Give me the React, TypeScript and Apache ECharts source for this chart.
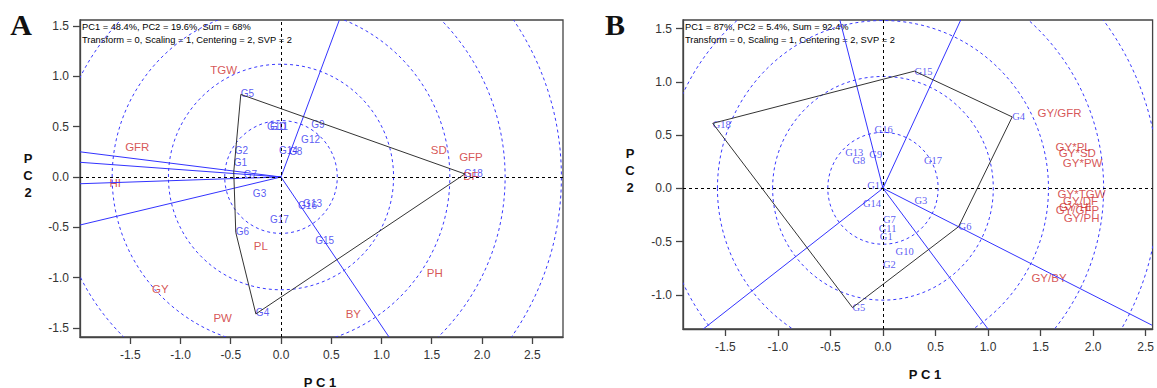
import React, { useEffect, useRef } from 'react';
import * as echarts from 'echarts';

// ---------- ticks ----------
const xTicksA = [-1.5, -1.0, -0.5, 0, 0.5, 1.0, 1.5, 2.0, 2.5];
const yTicksA = [-1.5, -1.0, -0.5, 0, 0.5, 1.0, 1.5];
const xTicksB = [-1.5, -1.0, -0.5, 0, 0.5, 1.0, 1.5, 2.0, 2.5];
const yTicksB = [-1.0, -0.5, 0, 0.5, 1.0, 1.5];

// ---------- panel A ----------
const genoNamesA = ['G1', 'G2', 'G3', 'G4', 'G5', 'G6', 'G7', 'G8', 'G9', 'G10', 'G11', 'G12', 'G13', 'G14', 'G15', 'G16', 'G17', 'G18'];
const genoXA = [-0.47, -0.46, -0.28, -0.25, -0.40, -0.45, -0.37, 0.08, 0.30, -0.14, -0.11, 0.20, 0.22, -0.02, 0.34, 0.17, -0.11, 1.82];
const genoYA = [0.14, 0.26, -0.16, -1.35, 0.83, -0.54, 0.02, 0.25, 0.52, 0.50, 0.50, 0.37, -0.26, 0.26, -0.63, -0.28, -0.42, 0.03];

const traitNamesA = ['TGW', 'GFR', 'HI', 'SD', 'GFP', 'DF', 'PL', 'GY', 'PW', 'PH', 'BY'];
const traitXA = [-0.57, -1.43, -1.65, 1.57, 1.89, 1.89, -0.20, -1.20, -0.58, 1.53, 0.72];
const traitYA = [1.06, 0.30, -0.06, 0.27, 0.20, 0.01, -0.69, -1.11, -1.40, -0.95, -1.36];

const polyXA = [-0.40, 1.83, -0.25, -0.45, -0.47, -0.40];
const polyYA = [0.82, 0.03, -1.36, -0.55, 0.05, 0.82];

const rayEndXA = [0.58, -2.0, -2.0, -2.0, -2.0, 1.075];
const rayEndYA = [1.557, 0.25, 0.146, -0.067, -0.477, -1.589];

const circleRadiiA = [0.56, 1.12, 1.68, 2.23, 2.79];

// ---------- panel B ----------
const genoNamesB = ['G1', 'G2', 'G3', 'G4', 'G5', 'G6', 'G7', 'G8', 'G9', 'G10', 'G11', 'G12', 'G13', 'G14', 'G15', 'G16', 'G17', 'G18'];
const genoXB = [-0.03, 0.0, 0.30, 1.23, -0.29, 0.72, 0.0, -0.29, -0.13, 0.12, -0.04, -0.15, -0.36, -0.19, 0.30, -0.08, 0.39, -1.62];
const genoYB = [-0.45, -0.72, -0.11, 0.67, -1.12, -0.36, -0.29, 0.26, 0.32, -0.59, -0.38, 0.03, 0.34, -0.14, 1.10, 0.55, 0.26, 0.60];

const traitNamesB = ['GY/GFR', 'GY*PL', 'GY*SD', 'GY*PW', 'GY*TGW', 'GY/DF', 'GY*HI', 'GY/GFP', 'GY/PH', 'GY/BY'];
const traitXB = [1.68, 1.81, 1.85, 1.90, 1.89, 1.88, 1.83, 1.85, 1.89, 1.58];
const traitYB = [0.71, 0.385, 0.33, 0.235, -0.05, -0.12, -0.175, -0.205, -0.28, -0.84];

const polyXB = [-1.62, 0.30, 1.23, 0.72, -0.29, -1.62];
const polyYB = [0.61, 1.10, 0.67, -0.36, -1.12, 0.61];

const rayEndXB = [-0.41, 0.74, -1.71, 1.0, 2.56];
const rayEndYB = [1.58, 1.58, -1.321, -1.321, -1.285];

const circleRadiiB = [0.525, 1.05, 1.575, 2.10, 2.625];

// ---------- styles ----------
const BLUE_TXT = '#3030f0';
const RED_TXT = '#cc2a2a';
const RAY = '#3333ff';
const CIRCLE = '#3a3aff';
const AXIS = '#444';

function axisX(gridIndex: number, min: number, max: number, ticks: number[]) {
  return {
    type: 'value', gridIndex, min, max,
    axisLine: { show: true, onZero: false, lineStyle: { color: AXIS, width: 1.3 } },
    axisTick: { show: true, length: 7, customValues: ticks, lineStyle: { color: AXIS, width: 1.3 } },
    axisLabel: {
      show: true, customValues: ticks, margin: 12, color: '#333', fontSize: 12,
      fontFamily: 'Liberation Sans', formatter: (v: number) => v.toFixed(1),
    },
    splitLine: { show: false },
  };
}
function axisY(gridIndex: number, min: number, max: number, ticks: number[]) {
  return {
    type: 'value', gridIndex, min, max,
    axisLine: { show: true, onZero: false, lineStyle: { color: AXIS, width: 1.3 } },
    axisTick: { show: true, length: 7, customValues: ticks, lineStyle: { color: AXIS, width: 1.3 } },
    axisLabel: {
      show: true, customValues: ticks, margin: 11, color: '#333', fontSize: 12,
      fontFamily: 'Liberation Sans', formatter: (v: number) => v.toFixed(1),
    },
    splitLine: { show: false },
  };
}

function panelSeries(idx: number, radii: number[], polyX: number[], polyY: number[],
  rayX: number[], rayY: number[], gN: string[], gX: number[], gY: number[],
  tN: string[], tX: number[], tY: number[], genoFont: string, genoSize: number) {
  const s: any[] = [];
  s.push({
    type: 'custom', xAxisIndex: idx, yAxisIndex: idx, clip: true, silent: true,
    data: radii.map((r) => [0, 0, r]),
    encode: { x: 0, y: 1 },
    renderItem: (_p: any, api: any) => {
      const r = api.value(2);
      const c = api.coord([0, 0]);
      const sz = api.size([r, r]);
      return {
        type: 'ellipse',
        shape: { cx: c[0], cy: c[1], rx: sz[0], ry: sz[1] },
        style: { fill: 'none', stroke: CIRCLE, lineWidth: 1, lineDash: [3, 3] },
      };
    },
  });
  rayX.forEach((x, i) => {
    s.push({
      type: 'line', xAxisIndex: idx, yAxisIndex: idx, silent: true, symbol: 'none',
      data: [[0, 0], [x, rayY[i]]],
      lineStyle: { color: RAY, width: 1 },
    });
  });
  s.push({
    type: 'line', xAxisIndex: idx, yAxisIndex: idx, silent: true, symbol: 'none',
    data: polyX.map((x, i) => [x, polyY[i]]),
    lineStyle: { color: '#333', width: 1 },
    markLine: {
      silent: true, symbol: ['none', 'none'], label: { show: false },
      lineStyle: { color: '#000', type: [3, 3], width: 1 },
      data: [{ xAxis: 0 }, { yAxis: 0 }],
    },
  });
  s.push({
    type: 'scatter', xAxisIndex: idx, yAxisIndex: idx, silent: true, symbolSize: 0,
    data: gN.map((n, i) => ({ name: n, value: [gX[i], gY[i]] })),
    label: {
      show: true, formatter: '{b}', position: 'right', distance: 0,
      color: BLUE_TXT, fontSize: genoSize, fontFamily: genoFont,
    },
  });
  s.push({
    type: 'scatter', xAxisIndex: idx, yAxisIndex: idx, silent: true, symbolSize: 0,
    data: tN.map((n, i) => ({ name: n, value: [tX[i], tY[i]] })),
    label: {
      show: true, formatter: '{b}', position: 'inside',
      color: RED_TXT, fontSize: 11.5, fontFamily: 'Liberation Sans',
    },
  });
  return s;
}

export default function App() {
  const ref = useRef<HTMLDivElement>(null);
  useEffect(() => {
    if (!ref.current) return;
    const chart = echarts.init(ref.current, null, { renderer: 'svg' });
    const headFont = '9.3px "Liberation Sans"';
    const option: any = {
      animation: false,
      backgroundColor: '#fff',
      grid: [
        { left: 80, top: 20, width: 483, height: 317, show: true, borderColor: AXIS, borderWidth: 1.3, backgroundColor: 'transparent' },
        { left: 683, top: 20, width: 476, height: 309, show: true, borderColor: AXIS, borderWidth: 1.3, backgroundColor: 'transparent' },
      ],
      xAxis: [axisX(0, -2.0, 2.806, xTicksA), axisX(1, -1.903, 2.566, xTicksB)],
      yAxis: [axisY(0, -1.589, 1.559, yTicksA), axisY(1, -1.321, 1.580, yTicksB)],
      series: [
        ...panelSeries(0, circleRadiiA, polyXA, polyYA, rayEndXA, rayEndYA, genoNamesA, genoXA, genoYA,
          traitNamesA, traitXA, traitYA, 'Liberation Sans', 10),
        ...panelSeries(1, circleRadiiB, polyXB, polyYB, rayEndXB, rayEndYB, genoNamesB, genoXB, genoYB,
          traitNamesB, traitXB, traitYB, 'Liberation Serif', 10.5),
      ],
      graphic: [
        { type: 'text', x: 21, y: 24, style: { text: 'A', font: 'bold 30px "Liberation Serif"', fill: '#111', align: 'center', verticalAlign: 'middle' } },
        { type: 'text', x: 615, y: 24, style: { text: 'B', font: 'bold 30px "Liberation Serif"', fill: '#111', align: 'center', verticalAlign: 'middle' } },
        { type: 'text', x: 82, y: 21, style: { text: 'PC1 = 48.4%, PC2 = 19.6%, Sum = 68%\nTransform = 0, Scaling = 1, Centering = 2, SVP = 2', font: headFont, lineHeight: 12.7, fill: '#000', align: 'left', verticalAlign: 'top' } },
        { type: 'text', x: 685, y: 21, style: { text: 'PC1 = 87%, PC2 = 5.4%, Sum = 92.4%\nTransform = 0, Scaling = 1, Centering = 2, SVP = 2', font: headFont, lineHeight: 12.7, fill: '#000', align: 'left', verticalAlign: 'top' } },
        { type: 'text', x: 320, y: 382, style: { text: 'P C 1', font: 'bold 13px "Liberation Sans"', fill: '#111', align: 'center', verticalAlign: 'middle' } },
        { type: 'text', x: 925, y: 374, style: { text: 'P C 1', font: 'bold 13px "Liberation Sans"', fill: '#111', align: 'center', verticalAlign: 'middle' } },
        { type: 'text', x: 28, y: 175, style: { text: 'P\nC\n2', font: 'bold 13px "Liberation Sans"', lineHeight: 17, fill: '#111', align: 'center', verticalAlign: 'middle' } },
        { type: 'text', x: 630, y: 170, style: { text: 'P\nC\n2', font: 'bold 13px "Liberation Sans"', lineHeight: 17, fill: '#111', align: 'center', verticalAlign: 'middle' } },
      ],
    };
    chart.setOption(option);
    return () => chart.dispose();
  }, []);
  return <div ref={ref} style={{ position: 'absolute', left: 0, top: 0, width: 1157, height: 388 }} />;
}
